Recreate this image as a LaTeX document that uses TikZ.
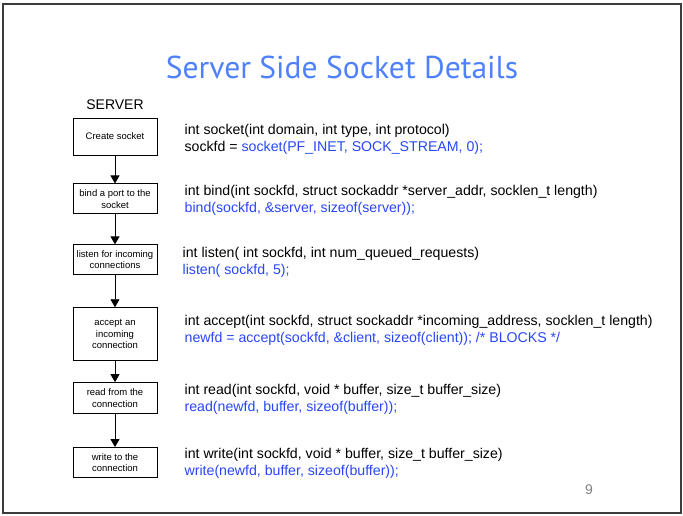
\documentclass[tikz,border=0pt]{standalone}
\usepackage{fontspec}
\setmainfont{Liberation Sans}
\newfontfamily\titlefont{PT Sans}
\usetikzlibrary{arrows.meta,positioning}

\definecolor{titleblue}{RGB}{79,129,255}
\definecolor{callblue}{RGB}{40,70,250}
\definecolor{framegray}{RGB}{60,60,60}
\newcommand{\call}[1]{\textcolor{callblue}{#1}}

\begin{document}
\begin{tikzpicture}[x=1pt,y=-1pt,node distance=30pt,
    >={Triangle[length=8pt,width=9pt]},
    stepbox/.style={draw,line width=0.9pt,minimum width=84pt,align=center,
      font=\fontsize{9.5}{11.5}\selectfont,inner sep=2pt},
    code/.style={align=left,font=\fontsize{14.15}{17}\selectfont,inner sep=1pt}]
  \useasboundingbox (0,0) rectangle (683,515);
  \draw[framegray,line width=1.3pt] (3,4) rectangle (681,513);

  \node[font=\titlefont\fontsize{31.6}{36}\selectfont,text=titleblue] (title) at (342,67) {Server Side Socket Details};
  \node[font=\fontsize{14}{17}\selectfont] (server) at (115,105) {SERVER};

  % the steps
  \node[stepbox,minimum height=37pt] (create) at (115,136.5) {Create socket};
  \node[stepbox,minimum height=30pt] (bind)   [below=28pt of create] {bind a port to the\\socket};
  \node[stepbox,minimum height=30pt] (listen) [below=30pt of bind]   {listen for incoming\\connections};
  \node[stepbox,minimum height=53pt] (accept) [below=32pt of listen] {accept an\\incoming\\connection};
  \node[stepbox,minimum height=31pt] (read)   [below=21pt of accept] {read from the\\connection};
  \node[stepbox,minimum height=30pt] (write)  [below=33pt of read]   {write to the\\connection};

  \path[->,line width=0.9pt]
  (create) edge (bind)
  (bind)   edge (listen)
  (listen) edge (accept)
  (accept) edge (read)
  (read)   edge (write);

  % the calls
  \node[code,right=26pt of create,yshift=-2.5pt] (socketcall) {int socket(int domain, int type, int protocol)\\sockfd = \call{socket(PF\_INET, SOCK\_STREAM, 0);}};
  \node[code,right=26pt of bind,yshift=-1.5pt]   (bindcall)   {int bind(int sockfd, struct sockaddr *server\_addr, socklen\_t length)\\\call{bind(sockfd, \&server, sizeof(server));}};
  \node[code,right=24pt of listen,yshift=-2.5pt] (listencall) {int listen( int sockfd, int num\_queued\_requests)\\\call{listen( sockfd, 5);}};
  \node[code,right=26pt of accept,yshift=4pt]    (acceptcall) {int accept(int sockfd, struct sockaddr *incoming\_address, socklen\_t length)\\\call{newfd = accept(sockfd, \&client, sizeof(client)); /* BLOCKS */}};
  \node[code,right=26pt of read,yshift=-1pt]     (readcall)   {int read(int sockfd, void * buffer, size\_t buffer\_size)\\\call{read(newfd, buffer, sizeof(buffer));}};
  \node[code,right=26pt of write,yshift=-1pt]    (writecall)  {int write(int sockfd, void * buffer, size\_t buffer\_size)\\\call{write(newfd, buffer, sizeof(buffer));}};

  \node[text=gray,font=\fontsize{14}{17}\selectfont] (page) at (589,490) {9};
\end{tikzpicture}
\end{document}
